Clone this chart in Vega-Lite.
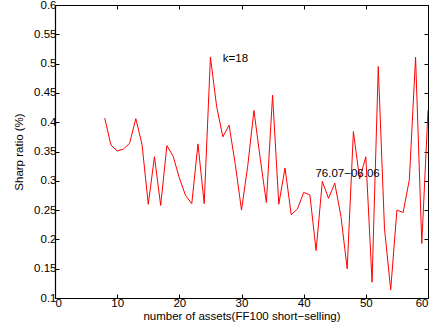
{
  "$schema": "https://vega.github.io/schema/vega-lite/v6.json",
  "width": 373,
  "height": 293,
  "autosize": {"type": "none"},
  "padding": {"left": 55, "top": 5, "right": 13, "bottom": 35},
  "background": "white",
  "config": {
    "view": {"stroke": "black", "strokeWidth": 1},
    "font": "Liberation Sans",
    "axis": {
      "grid": false,
      "domainColor": "black",
      "domainWidth": 1.2,
      "tickColor": "black",
      "tickSize": -4,
      "labelColor": "black",
      "labelFont": "Liberation Sans",
      "labelFontSize": 11.5,
      "titleFont": "Liberation Sans",
      "titleFontSize": 11.5,
      "titleFontWeight": "normal",
      "titleColor": "black"
    }
  },
  "datasets": {
    "series": [
      {"n": 8, "sr": 0.407}, {"n": 9, "sr": 0.361}, {"n": 10, "sr": 0.351}, {"n": 11, "sr": 0.354},
      {"n": 12, "sr": 0.364}, {"n": 13, "sr": 0.406}, {"n": 14, "sr": 0.362}, {"n": 15, "sr": 0.26},
      {"n": 16, "sr": 0.341}, {"n": 17, "sr": 0.258}, {"n": 18, "sr": 0.36}, {"n": 19, "sr": 0.342},
      {"n": 20, "sr": 0.305}, {"n": 21, "sr": 0.275}, {"n": 22, "sr": 0.261}, {"n": 23, "sr": 0.363},
      {"n": 24, "sr": 0.261}, {"n": 25, "sr": 0.511}, {"n": 26, "sr": 0.427}, {"n": 27, "sr": 0.375},
      {"n": 28, "sr": 0.395}, {"n": 29, "sr": 0.328}, {"n": 30, "sr": 0.25}, {"n": 31, "sr": 0.325},
      {"n": 32, "sr": 0.42}, {"n": 33, "sr": 0.339}, {"n": 34, "sr": 0.263}, {"n": 35, "sr": 0.446},
      {"n": 36, "sr": 0.26}, {"n": 37, "sr": 0.322}, {"n": 38, "sr": 0.242}, {"n": 39, "sr": 0.252},
      {"n": 40, "sr": 0.28}, {"n": 41, "sr": 0.276}, {"n": 42, "sr": 0.181}, {"n": 43, "sr": 0.299},
      {"n": 44, "sr": 0.27}, {"n": 45, "sr": 0.296}, {"n": 46, "sr": 0.239}, {"n": 47, "sr": 0.15},
      {"n": 48, "sr": 0.384}, {"n": 49, "sr": 0.303}, {"n": 50, "sr": 0.341}, {"n": 51, "sr": 0.127},
      {"n": 52, "sr": 0.495}, {"n": 53, "sr": 0.219}, {"n": 54, "sr": 0.114}, {"n": 55, "sr": 0.25},
      {"n": 56, "sr": 0.246}, {"n": 57, "sr": 0.302}, {"n": 58, "sr": 0.511}, {"n": 59, "sr": 0.193},
      {"n": 60, "sr": 0.42}
    ],
    "notes": [
      {"n": 27, "sr": 0.508, "label": "k=18"},
      {"n": 41.9, "sr": 0.312, "label": "76.07\u221206.06"}
    ]
  },
  "resolve": {"axis": {"x": "independent", "y": "independent"}},
  "layer": [
    {
      "data": {"name": "series"},
      "mark": {"type": "line", "color": "#ff0000", "strokeWidth": 1, "clip": true},
      "encoding": {
        "x": {
          "field": "n", "type": "quantitative",
          "scale": {"domain": [0, 60], "nice": false, "zero": false},
          "axis": {"orient": "bottom", "values": [0, 10, 20, 30, 40, 50, 60], "title": "number of assets(FF100 short\u2212selling)", "labelPadding": 3, "titlePadding": 2}
        },
        "y": {
          "field": "sr", "type": "quantitative",
          "scale": {"domain": [0.1, 0.6], "nice": false, "zero": false},
          "axis": {"orient": "left", "values": [0.1, 0.15, 0.2, 0.25, 0.3, 0.35, 0.4, 0.45, 0.5, 0.55, 0.6], "format": ".2~f", "title": "Sharp ratio (%)", "labelPadding": 3, "titlePadding": 9}
        }
      }
    },
    {
      "data": {"name": "notes"},
      "mark": {"type": "text", "align": "left", "baseline": "middle", "fontSize": 11.5, "font": "Liberation Sans", "color": "black"},
      "encoding": {
        "x": {
          "field": "n", "type": "quantitative",
          "axis": {"orient": "top", "values": [0, 10, 20, 30, 40, 50, 60], "labels": false, "title": null, "domain": false}
        },
        "y": {
          "field": "sr", "type": "quantitative",
          "axis": {"orient": "right", "values": [0.1, 0.15, 0.2, 0.25, 0.3, 0.35, 0.4, 0.45, 0.5, 0.55, 0.6], "labels": false, "title": null, "domain": false}
        },
        "text": {"field": "label"}
      }
    }
  ]
}
